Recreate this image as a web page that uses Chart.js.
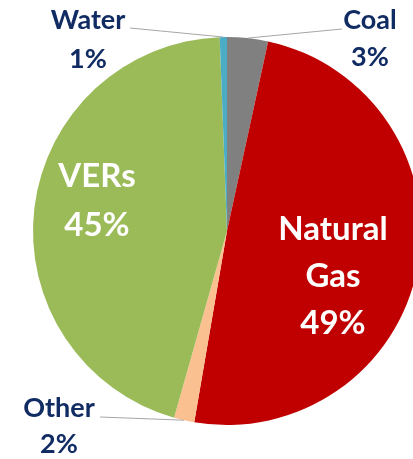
<!DOCTYPE html>
<html>
<head>
<meta charset="utf-8">
<script src="https://cdn.jsdelivr.net/npm/chart.js@4.4.1/dist/chart.umd.min.js"></script>
<style>
  html, body { margin: 0; padding: 0; background: #fff; overflow: hidden; }
  #wrap { width: 440px; height: 459px; }
</style>
</head>
<body>
<div id="wrap"><canvas id="chart" width="440" height="459"></canvas></div>
<script>
// generation mix, share of total (%)
const categories = ['Coal', 'Natural Gas', 'Other', 'VERs', 'Water'];
const values = [3.4, 49.3, 1.7, 45.0, 0.6];
const colors = ['#808080', '#C00000', '#FAC090', '#9BBB59', '#4BACC6'];

// how each slice's label is drawn (lines of text, inside or outside)
const labelLines = [['Coal'], ['Natural', 'Gas'], ['Other'], ['VERs'], ['Water']];
const labelSpots = [
  { x: 370, y: 29, gap: 37, size: 27, color: '#112B63', lead: [342, 29] },
  { x: 333, y: 240, gap: 47, size: 33, color: '#ffffff' },
  { x: 59, y: 417, gap: 36, size: 27, color: '#112B63', lead: [100, 417] },
  { x: 97, y: 187, gap: 49, size: 33, color: '#ffffff' },
  { x: 88, y: 29, gap: 39, size: 27, color: '#112B63', lead: [130, 28] }
];

const pieLabels = {
  id: 'pieLabels',
  afterDraw(c) {
    const ctx = c.ctx;
    const arcs = c.getDatasetMeta(0).data;
    ctx.save();
    arcs.forEach((arc, i) => {
      const spot = labelSpots[i];
      if (spot.lead) {
        const p = arc.getProps(['x', 'y', 'startAngle', 'endAngle', 'outerRadius'], true);
        const mid = (p.startAngle + p.endAngle) / 2;
        ctx.strokeStyle = '#A6A6A6';
        ctx.lineWidth = 1;
        ctx.beginPath();
        ctx.moveTo(spot.lead[0], spot.lead[1]);
        ctx.lineTo(p.x + Math.cos(mid) * p.outerRadius, p.y + Math.sin(mid) * p.outerRadius);
        ctx.stroke();
      }
      const lines = labelLines[i].concat([Math.round(values[i]) + '%']);
      ctx.fillStyle = spot.color;
      ctx.font = 'bold ' + spot.size + 'px Lato';
      ctx.textAlign = 'center';
      ctx.textBaseline = 'alphabetic';
      lines.forEach((t, k) => ctx.fillText(t, spot.x, spot.y + k * spot.gap));
    });
    ctx.restore();
  }
};

new Chart(document.getElementById('chart'), {
  type: 'pie',
  data: {
    labels: categories,
    datasets: [{
      data: values,
      backgroundColor: colors,
      borderWidth: 0
    }]
  },
  options: {
    responsive: false,
    animation: false,
    layout: { padding: { left: 33, right: 19, top: 37, bottom: 34 } },
    plugins: {
      legend: { display: false },
      tooltip: { enabled: false }
    }
  },
  plugins: [pieLabels]
});
</script>
</body>
</html>
